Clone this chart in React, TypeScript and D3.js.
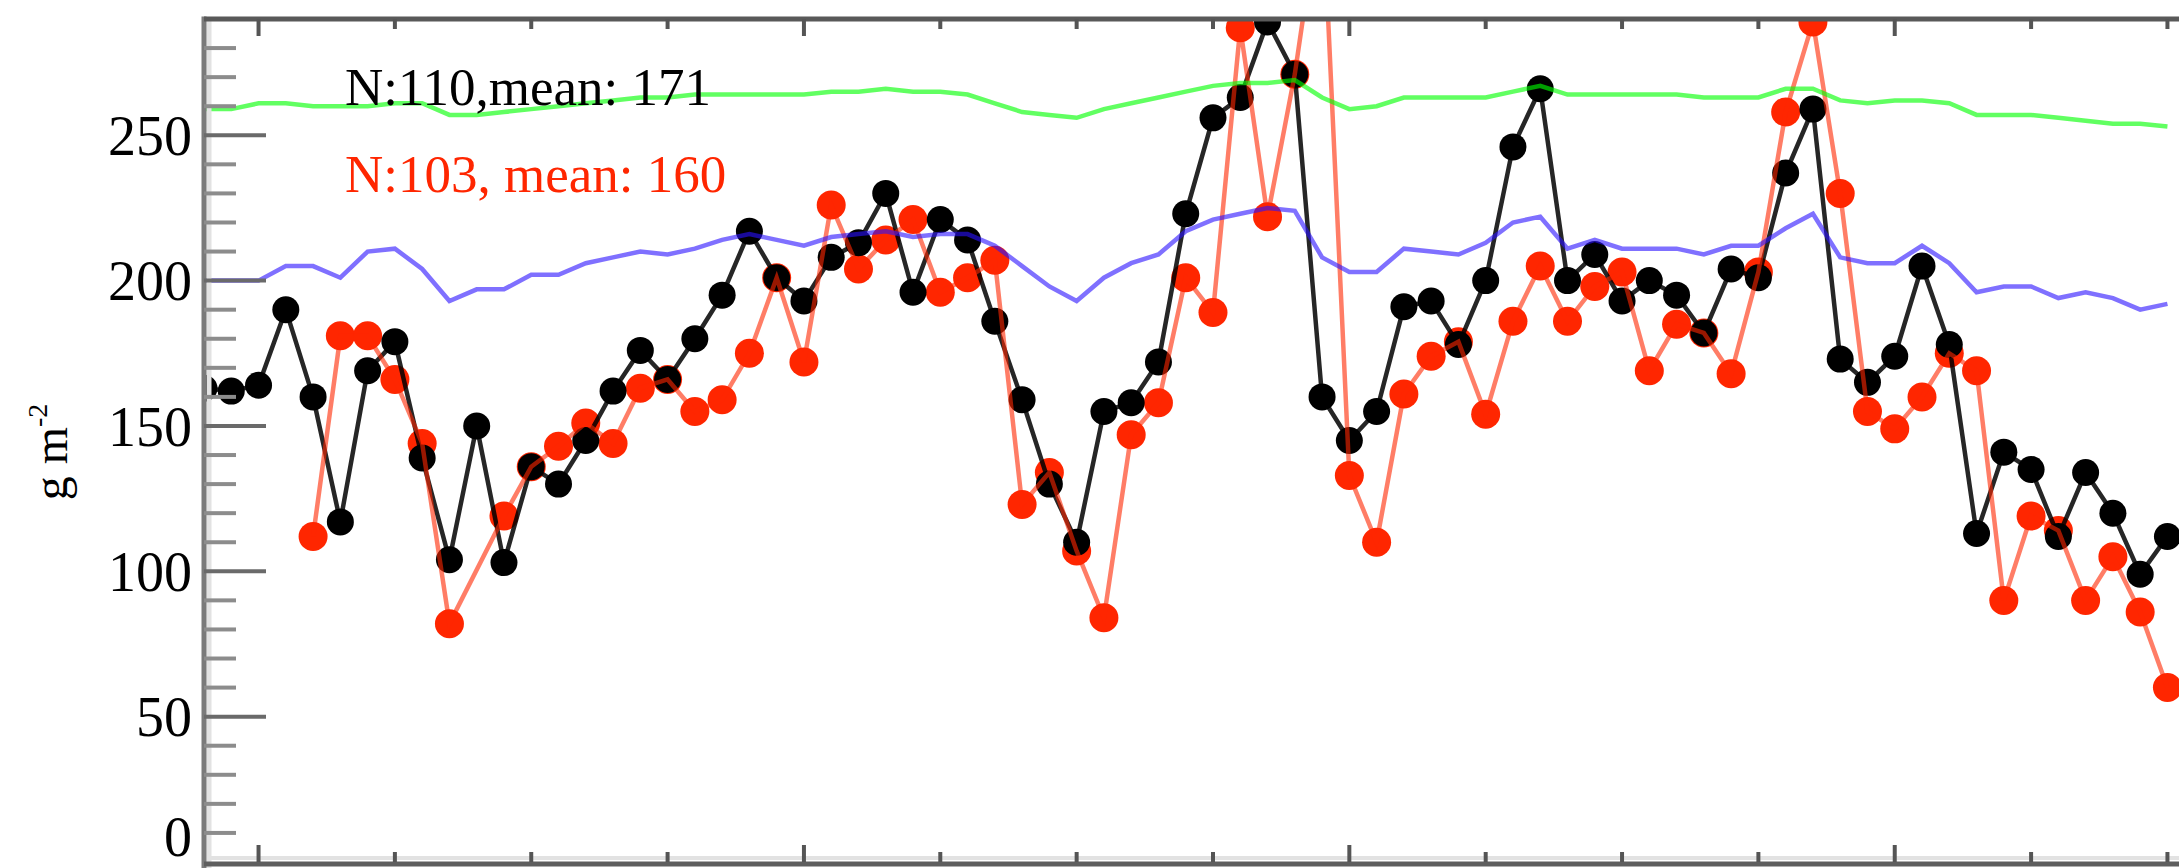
import React, { useRef, useEffect } from 'react';
import * as d3 from 'd3';

const width = 2179;
const height = 868;

// day index along x (the crop shows no x tick labels)
const days = d3.range(73);

// observations, g m-2
const blackObs = [
  163, 162, 164, 190, 160, 117, 169, 179, 139, 104, 150, 103, 136, 130, 145, 162, 176, 166, 180, 195,
  217, 201, 193, 208, 213, 230, 196, 221, 214, 186, 159, 130, 110, 155, 158, 172, 223, 256, 263, 289,
  271, 160, 145, 155, 191, 193, 178, 200, 246, 266, 200, 209, 193, 200, 195, 182, 204, 201, 237, 259,
  173, 165, 174, 205, 178, 113, 141, 135, 112, 134, 120, 99, 112,
];
const redObs: (number | null)[] = [
  null, null, null, null, 112, 181, 181, 166, 144, 82, null, 119, 136, 143, 151, 144, 163, 166, 155, 159,
  175, 201, 172, 226, 204, 214, 221, 196, 201, 207, 123, 134, 107, 84, 147, 158, 201, 189, 287, 222,
  271, 335, 133, 110, 161, 174, 179, 154, 186, 205, 186, 198, 203, 169, 185, 182, 168, 203, 258, 289,
  230, 155, 149, 160, 175, 169, 90, 119, 114, 90, 105, 86, 60,
];

// climatology curves
const blueClim = [
  200, 200, 200, 205, 205, 201, 210, 211, 204, 193, 197, 197, 202, 202, 206, 208, 210, 209, 211, 214,
  216, 214, 212, 215, 216, 217, 215, 216, 216, 212, 205, 198, 193, 201, 206, 209, 217, 221, 223, 225,
  224, 208, 203, 203, 211, 210, 209, 213, 220, 222, 211, 214, 211, 211, 211, 209, 212, 212, 218, 223,
  208, 206, 206, 212, 206, 196, 198, 198, 194, 196, 194, 190, 192,
];
const greenClim = [
  259, 259, 261, 261, 260, 260, 260, 261, 261, 257, 257, 258, 259, 260, 261, 262, 263, 263, 264, 264,
  264, 264, 264, 265, 265, 266, 265, 265, 264, 261, 258, 257, 256, 259, 261, 263, 265, 267, 268, 268,
  269, 263, 259, 260, 263, 263, 263, 263, 265, 267, 264, 264, 264, 264, 264, 263, 263, 263, 266, 266,
  262, 261, 262, 262, 261, 257, 257, 257, 256, 255, 254, 254, 253,
];

const yMajorTicks = [0, 50, 100, 150, 200, 250];
const xMajorTicks = [2, 22, 42, 62];
const xMinorTicks = [7, 12, 17, 27, 32, 37, 47, 52, 57, 67, 72];

const blackLabel = 'N:110,mean: 171';
const redLabel = 'N:103, mean: 160';

const RED = '#ff2600';
const FONT = '"Liberation Serif", "DejaVu Serif", serif';

const App = () => {
  const svgRef = useRef<SVGSVGElement>(null);

  useEffect(() => {
    const svg = d3.select(svgRef.current);
    svg.selectAll('*').remove();

    const margin = { top: 19, left: 204, bottom: 6 };
    const plotBottom = height - margin.bottom;

    const x = d3.scaleLinear().domain([0, 72]).range([margin.left, margin.left + 72 * 27.27]);
    const y = d3.scaleLinear().domain([0, 290]).range([plotBottom, margin.top]);

    svg.append('defs')
      .append('clipPath')
      .attr('id', 'plot-clip')
      .append('rect')
      .attr('x', margin.left)
      .attr('y', margin.top)
      .attr('width', width - margin.left)
      .attr('height', plotBottom - margin.top);

    const g = svg.append('g').attr('clip-path', 'url(#plot-clip)');

    const blackPts = days.map(d => ({ d, v: blackObs[d] }));
    const redPts = days
      .filter(d => redObs[d] !== null)
      .map(d => ({ d, v: redObs[d] as number }));

    const line = d3.line<{ d: number; v: number }>()
      .x(p => x(p.d))
      .y(p => y(p.v));

    // red markers first, black on top
    g.append('g')
      .attr('fill', RED)
      .selectAll('circle')
      .data(redPts)
      .join('circle')
      .attr('cx', p => x(p.d))
      .attr('cy', p => y(p.v))
      .attr('r', 14.5);

    g.append('g')
      .attr('fill', '#000')
      .selectAll('circle')
      .data(blackPts)
      .join('circle')
      .attr('cx', p => x(p.d))
      .attr('cy', p => y(p.v))
      .attr('r', 13.5);

    g.append('path')
      .attr('d', line(blackPts))
      .attr('fill', 'none')
      .attr('stroke', '#000')
      .attr('stroke-opacity', 0.85)
      .attr('stroke-width', 4.5);

    g.append('path')
      .attr('d', line(redPts))
      .attr('fill', 'none')
      .attr('stroke', RED)
      .attr('stroke-opacity', 0.6)
      .attr('stroke-width', 4.5);

    // climatology lines, drawn last (semi transparent)
    g.append('path')
      .attr('d', line(days.map(d => ({ d, v: blueClim[d] }))))
      .attr('fill', 'none')
      .attr('stroke', '#2a10ff')
      .attr('stroke-opacity', 0.6)
      .attr('stroke-width', 4.5);

    g.append('path')
      .attr('d', line(days.map(d => ({ d, v: greenClim[d] }))))
      .attr('fill', 'none')
      .attr('stroke', '#00ff00')
      .attr('stroke-opacity', 0.62)
      .attr('stroke-width', 4.5);

    // frame
    const axis = svg.append('g');
    axis.append('line') // left
      .attr('x1', margin.left + 5).attr('x2', margin.left + 5)
      .attr('y1', margin.top).attr('y2', height)
      .attr('stroke', '#e2e2e2').attr('stroke-width', 5);
    axis.append('line')
      .attr('x1', margin.left).attr('x2', margin.left)
      .attr('y1', margin.top - 2.5).attr('y2', height)
      .attr('stroke', '#7a7a7a').attr('stroke-width', 5);
    axis.append('line') // top
      .attr('x1', margin.left).attr('x2', width)
      .attr('y1', margin.top).attr('y2', margin.top)
      .attr('stroke', '#595959').attr('stroke-width', 5);
    axis.append('line') // bottom
      .attr('x1', margin.left + 3).attr('x2', width)
      .attr('y1', plotBottom - 4).attr('y2', plotBottom - 4)
      .attr('stroke', '#e2e2e2').attr('stroke-width', 4);
    axis.append('line')
      .attr('x1', margin.left).attr('x2', width)
      .attr('y1', plotBottom + 2).attr('y2', plotBottom + 2)
      .attr('stroke', '#5e5e5e').attr('stroke-width', 5);

    // y ticks
    const yMinor = d3.range(10, 290, 10).filter(v => v % 50 !== 0);
    axis.append('g')
      .selectAll('line')
      .data(yMinor)
      .join('line')
      .attr('x1', margin.left).attr('x2', margin.left + 32)
      .attr('y1', v => y(v)).attr('y2', v => y(v))
      .attr('stroke', '#8c8c8c').attr('stroke-width', 4);
    axis.append('g')
      .selectAll('line')
      .data(yMajorTicks.filter(v => v > 0))
      .join('line')
      .attr('x1', margin.left).attr('x2', margin.left + 62)
      .attr('y1', v => y(v)).attr('y2', v => y(v))
      .attr('stroke', '#6a6a6a').attr('stroke-width', 4);

    // x ticks on top and bottom
    const xTicks = [
      ...xMajorTicks.map(d => ({ d, len: 17 })),
      ...xMinorTicks.map(d => ({ d, len: 10 })),
    ];
    axis.append('g')
      .selectAll('line')
      .data(xTicks)
      .join('line')
      .attr('x1', t => x(t.d)).attr('x2', t => x(t.d))
      .attr('y1', margin.top).attr('y2', t => margin.top + t.len)
      .attr('stroke', '#555').attr('stroke-width', 4);
    axis.append('g')
      .selectAll('line')
      .data(xTicks)
      .join('line')
      .attr('x1', t => x(t.d)).attr('x2', t => x(t.d))
      .attr('y1', plotBottom).attr('y2', t => plotBottom - t.len)
      .attr('stroke', '#555').attr('stroke-width', 4);

    // y tick labels (the bottom one is kept inside the picture)
    svg.append('g')
      .attr('font-family', FONT)
      .attr('font-size', 56)
      .attr('fill', '#000')
      .attr('text-anchor', 'end')
      .selectAll('text')
      .data(yMajorTicks)
      .join('text')
      .attr('x', margin.left - 12)
      .attr('y', v => Math.min(y(v), height - 32))
      .attr('dy', '0.35em')
      .text(v => String(v));

    // y axis title
    const title = svg.append('text')
      .attr('transform', 'translate(67,452) rotate(-90)')
      .attr('font-family', FONT)
      .attr('font-size', 48)
      .attr('text-anchor', 'middle')
      .attr('fill', '#000');
    title.append('tspan').text('g m');
    title.append('tspan').attr('font-size', 28).attr('dy', -20).text('-2');

    // annotations
    svg.append('text')
      .attr('x', 345).attr('y', 105)
      .attr('font-family', FONT).attr('font-size', 53)
      .attr('fill', '#000')
      .text(blackLabel);
    svg.append('text')
      .attr('x', 345).attr('y', 192)
      .attr('font-family', FONT).attr('font-size', 53)
      .attr('fill', RED)
      .text(redLabel);
  }, []);

  return (
    <svg
      ref={svgRef}
      width={width}
      height={height}
      style={{ position: 'absolute', left: 0, top: 0, background: '#fff', display: 'block' }}
    />
  );
};

export default App;
